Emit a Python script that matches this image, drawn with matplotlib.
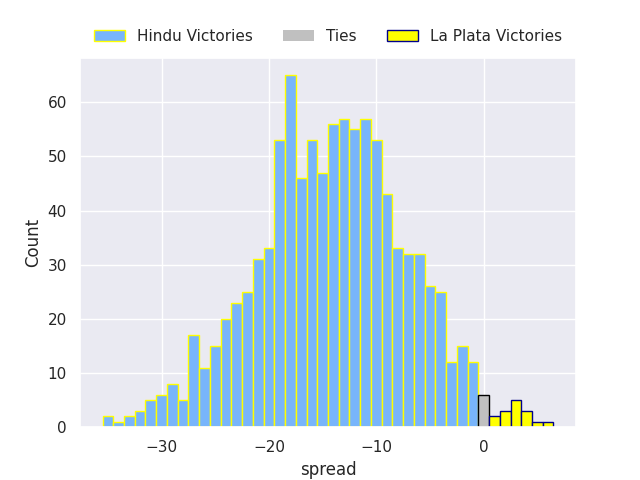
import matplotlib
matplotlib.use("Agg")
import matplotlib.pyplot as plt
import seaborn as sns
from matplotlib.patches import Patch

# spread values (integer bins) and counts
hindu_spread = list(range(-35, 0))
hindu_count = [2, 1, 2, 3, 5, 6, 8, 5, 17, 11,
               15, 20, 23, 25, 31, 33, 53, 65, 46, 53,
               47, 56, 57, 55, 57, 53, 43, 33, 32, 32,
               26, 25, 12, 15, 12]
tie_spread = [0]
tie_count = [6]
laplata_spread = [1, 2, 3, 4, 5, 6]
laplata_count = [2, 3, 5, 3, 1, 1]

sns.set_theme()

fig, ax = plt.subplots(figsize=(6.4, 4.8), dpi=100)

hindu_col = '#78b5fb'
ax.bar(hindu_spread, hindu_count, width=1, color=hindu_col, edgecolor='yellow', linewidth=1)
ax.bar(tie_spread, tie_count, width=1, color='silver', edgecolor='black', linewidth=1)
ax.bar(laplata_spread, laplata_count, width=1, color='yellow', edgecolor='darkblue', linewidth=1)

ax.set_xlabel('spread')
ax.set_ylabel('Count')

handles = [Patch(facecolor=hindu_col, edgecolor='yellow', linewidth=1),
           Patch(facecolor='silver', edgecolor='none'),
           Patch(facecolor='yellow', edgecolor='darkblue', linewidth=1)]
ax.legend(handles, ['Hindu Victories', 'Ties', 'La Plata Victories'],
          loc='lower center', bbox_to_anchor=(0.5, 1.0), ncol=3, frameon=False)

fig.savefig('out.png')
